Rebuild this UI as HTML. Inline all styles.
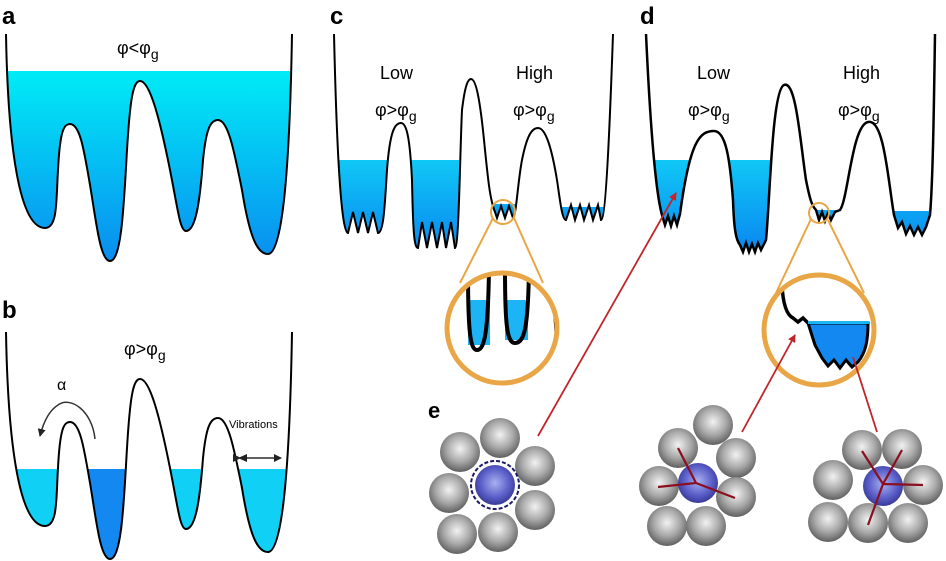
<!DOCTYPE html>
<html><head><meta charset="utf-8"><style>
html,body{margin:0;padding:0;background:#fff;}
svg{display:block;font-family:"Liberation Sans",sans-serif;}
</style></head><body>
<svg width="946" height="561" viewBox="0 0 946 561" xmlns="http://www.w3.org/2000/svg">
<defs>
<linearGradient id="wa" x1="0" y1="71" x2="0" y2="262" gradientUnits="userSpaceOnUse"><stop offset="0" stop-color="#00ecf6"/><stop offset="1" stop-color="#0a8cf0"/></linearGradient>
<linearGradient id="wb" x1="0" y1="469" x2="0" y2="560" gradientUnits="userSpaceOnUse"><stop offset="0" stop-color="#10d0f6"/><stop offset="1" stop-color="#0a8cf0"/></linearGradient>
<linearGradient id="wc" x1="0" y1="160" x2="0" y2="250" gradientUnits="userSpaceOnUse"><stop offset="0" stop-color="#10c8f6"/><stop offset="1" stop-color="#0a88f0"/></linearGradient>
<radialGradient id="gs" cx="0.5" cy="0.42" r="0.6"><stop offset="0" stop-color="#f2f2f2"/><stop offset="0.55" stop-color="#a8a8a8"/><stop offset="1" stop-color="#5a5a5a"/></radialGradient>
<radialGradient id="bs" cx="0.5" cy="0.45" r="0.6"><stop offset="0" stop-color="#aab0f0"/><stop offset="0.6" stop-color="#5a5ec8"/><stop offset="1" stop-color="#30308a"/></radialGradient>
<path id="pa" d="M6,34 C8,150 20,228 45,228 C58,228 56,200 58,170 C60,130 64,124 70,124 C80,124 84,150 90,185 C96,220 100,261 110,261 C122,261 124,200 127,150 C130,100 133,81 140,81 C150,81 160,120 170,170 C178,210 180,231 186,231 C196,231 200,200 203,160 C206,130 210,120 218,120 C228,120 234,150 242,190 C250,240 258,254 268,254 C284,254 290,150 292,34"/>
<path id="pc" d="M334,34 C336,120 340,233 348,233 L353,212 L358,233 L363,212 L368,233 L373,212 L378,233 C384,233 385,200 387,170 C390,130 395,123 401,123 C407,123 410,140 412,180 C413,230 414,248 418,248 L422,222 L427,248 L432,222 L437,248 L442,222 L446,248 L451,222 L455,248 C459,248 460,150 462,110 C465,85 468,79 471,79 C476,79 480,100 484,140 C488,180 490,200 495,212 L497,218 L501,206 L505,218 L509,206 L513,218 C516,218 518,180 522,160 C527,135 532,128 538,128 C546,128 552,150 557,180 C560,200 562,220 566,220 L571,205 L575,220 L580,205 L584,220 L589,205 L593,220 L598,205 L601,220 C606,220 610,120 613,34"/>
<path id="pd" d="M646,34 C650,120 655,190 662,215 L665,225 L668,216 L671,226 L674,216 L677,225 L680,214 C690,140 700,131 714,131 C726,131 730,160 733,200 C734,230 736,240 740,245 L743,252 L746,243 L749,252 L752,244 L755,252 L758,243 L761,250 L766,240 C770,200 772,90 784,85 C796,80 800,140 806,180 C810,200 812,206 816,210 L819,220 L822,212 L825,221 L828,213 L831,220 L835,212 L840,210 C848,200 852,125 868,122 C884,118 888,180 894,215 L898,228 L902,222 L906,234 L910,226 L914,235 L918,227 L922,235 L926,227 L930,215 C933,180 934,100 935,34"/>
<clipPath id="ca"><use href="#pa"/></clipPath>
<clipPath id="cc"><use href="#pc"/></clipPath>
<clipPath id="cd"><use href="#pd"/></clipPath>
<clipPath id="zc"><circle cx="502" cy="328" r="53"/></clipPath>
<clipPath id="zd"><circle cx="819" cy="330" r="53"/></clipPath>
<marker id="ar" markerWidth="8" markerHeight="8" refX="7" refY="4" orient="auto" markerUnits="userSpaceOnUse"><path d="M0,0 L8,4 L0,8 Z" fill="#c0262a"/></marker>
<marker id="ak" markerWidth="8" markerHeight="8" refX="7" refY="4" orient="auto" markerUnits="userSpaceOnUse"><path d="M0,0 L8,4 L0,8 Z" fill="#222"/></marker>
</defs>

<!-- panel a -->
<text x="2" y="24" font-size="24" font-weight="bold">a</text>
<rect x="0" y="71" width="300" height="200" fill="url(#wa)" clip-path="url(#ca)"/>
<use href="#pa" fill="none" stroke="#000" stroke-width="2"/>
<text x="117" y="54" font-size="18">φ&lt;φ<tspan font-size="14" dy="5">g</tspan></text>

<!-- panel b -->
<text x="2" y="318" font-size="24" font-weight="bold">b</text>
<g transform="translate(0,298)">
<rect x="0" y="171" width="300" height="100" fill="url(#wb)" clip-path="url(#ca)"/>
<rect x="84" y="171" width="44" height="100" fill="#1288f0" clip-path="url(#ca)"/>
<use href="#pa" fill="none" stroke="#000" stroke-width="2"/>
</g>
<text x="124" y="355" font-size="18">φ&gt;φ<tspan font-size="14" dy="5">g</tspan></text>
<text x="57" y="390" font-size="16">α</text>
<path d="M95,439 C92,410 70,396 58,405 C50,410 44,420 40,436" fill="none" stroke="#333" stroke-width="1.5" marker-end="url(#ak)"/>
<text x="229" y="428" font-size="11">Vibrations</text>
<line x1="240" y1="458" x2="281" y2="458" stroke="#000" stroke-width="1.2" marker-end="url(#ak)" marker-start="url(#ak)"/>
<path d="M247,454 L238,458 L247,462 Z" fill="#222"/>

<!-- panel c -->
<text x="330" y="24" font-size="24" font-weight="bold">c</text>
<g clip-path="url(#cc)" fill="url(#wc)">
<rect x="330" y="160" width="132" height="100"/>
<rect x="490" y="204" width="28" height="30"/>
<rect x="560" y="207" width="45" height="30"/>
</g>
<use href="#pc" fill="none" stroke="#000" stroke-width="2"/>
<text x="380" y="79" font-size="18">Low</text>
<text x="516" y="79" font-size="18">High</text>
<text x="375" y="116" font-size="18">φ&gt;φ<tspan font-size="14" dy="5">g</tspan></text>
<text x="513" y="116" font-size="18">φ&gt;φ<tspan font-size="14" dy="5">g</tspan></text>
<circle cx="503" cy="212" r="12" fill="none" stroke="#e8a646" stroke-width="2"/>
<line x1="493" y1="218" x2="460" y2="283" stroke="#e8a646" stroke-width="2"/>
<line x1="514" y1="218" x2="543" y2="283" stroke="#e8a646" stroke-width="2"/>
<g clip-path="url(#zc)">
<path d="M468,300 L490,300 L490,345 L468,345 Z M505,300 L528,300 L528,340 L505,340 Z" fill="#1cb4f4"/>
<path d="M468,270 C468,330 470,350 477,350 C485,350 488,330 489,270" fill="none" stroke="#000" stroke-width="4"/>
<path d="M505,270 C505,325 507,343 515,343 C525,343 528,325 529,270" fill="none" stroke="#000" stroke-width="4"/>
<path d="M554,300 C556,320 557,340 558,360" fill="none" stroke="#000" stroke-width="4"/>
</g>
<circle cx="502" cy="328" r="55" fill="none" stroke="#e8a646" stroke-width="5"/>

<!-- panel d -->
<text x="640" y="24" font-size="24" font-weight="bold">d</text>
<g clip-path="url(#cd)" fill="url(#wc)">
<rect x="640" y="160" width="132" height="100"/>
<rect x="810" y="210" width="36" height="30"/>
<rect x="888" y="211" width="48" height="30"/>
</g>
<use href="#pd" fill="none" stroke="#000" stroke-width="2.5"/>
<text x="697" y="79" font-size="18">Low</text>
<text x="843" y="79" font-size="18">High</text>
<text x="688" y="116" font-size="18">φ&gt;φ<tspan font-size="14" dy="5">g</tspan></text>
<text x="838" y="116" font-size="18">φ&gt;φ<tspan font-size="14" dy="5">g</tspan></text>
<circle cx="819" cy="213" r="10" fill="none" stroke="#e8a646" stroke-width="2"/>
<line x1="811" y1="219" x2="776" y2="293" stroke="#e8a646" stroke-width="2"/>
<line x1="828" y1="220" x2="864" y2="293" stroke="#e8a646" stroke-width="2"/>
<g clip-path="url(#zd)">
<path d="M782,285 C783,305 787,315 793,318 L798,322 L803,318 L808,323" fill="none" stroke="#000" stroke-width="3.5"/>
<path d="M808,323 L868,323 C868,340 866,352 858,362 L852,367 L846,360 L840,368 L834,360 L828,366 L822,358 L815,345 Z" fill="#1288f0" stroke="#000" stroke-width="3"/>
<rect x="808" y="321" width="61" height="3" fill="#1cb4f4"/>
</g>
<circle cx="819" cy="330" r="55" fill="none" stroke="#e8a646" stroke-width="5"/>

<!-- red arrows -->
<line x1="538" y1="436" x2="676" y2="193" stroke="#c0262a" stroke-width="1.8" marker-end="url(#ar)"/>
<line x1="742" y1="432" x2="795" y2="335" stroke="#c0262a" stroke-width="1.8" marker-end="url(#ar)"/>
<line x1="877" y1="432" x2="853" y2="357" stroke="#c0262a" stroke-width="1.8"/>

<!-- panel e -->
<text x="428" y="418" font-size="22" font-weight="bold">e</text>
<g fill="url(#gs)">
<circle cx="460" cy="452" r="20"/><circle cx="500" cy="438" r="20"/><circle cx="535" cy="466" r="20"/>
<circle cx="449" cy="493" r="20"/><circle cx="535" cy="510" r="20"/><circle cx="457" cy="534" r="20"/><circle cx="498" cy="532" r="20"/>
<circle cx="678" cy="448" r="20"/><circle cx="713" cy="425" r="20"/><circle cx="736" cy="458" r="20"/>
<circle cx="659" cy="486" r="20"/><circle cx="736" cy="497" r="20"/><circle cx="667" cy="526" r="20"/><circle cx="706" cy="526" r="20"/>
<circle cx="862" cy="450" r="20"/><circle cx="902" cy="449" r="20"/><circle cx="833" cy="480" r="20"/>
<circle cx="923" cy="485" r="20"/><circle cx="828" cy="522" r="20"/><circle cx="868" cy="523" r="20"/><circle cx="908" cy="523" r="20"/>
</g>
<circle cx="495" cy="485" r="24" fill="#fff" stroke="#1a1a6a" stroke-width="2" stroke-dasharray="4,2"/>
<circle cx="495" cy="485" r="20" fill="url(#bs)"/>
<circle cx="698" cy="483" r="20" fill="url(#bs)"/>
<circle cx="883" cy="486" r="20" fill="url(#bs)"/>
<g stroke="#8a1020" stroke-width="2.2" fill="none">
<path d="M678,448 L696,483 L658,487 M696,483 L735,498"/>
<path d="M862,451 L883,484 L902,450 M883,484 L923,485 M883,484 L868,525"/>
</g>
</svg>
</body></html>
